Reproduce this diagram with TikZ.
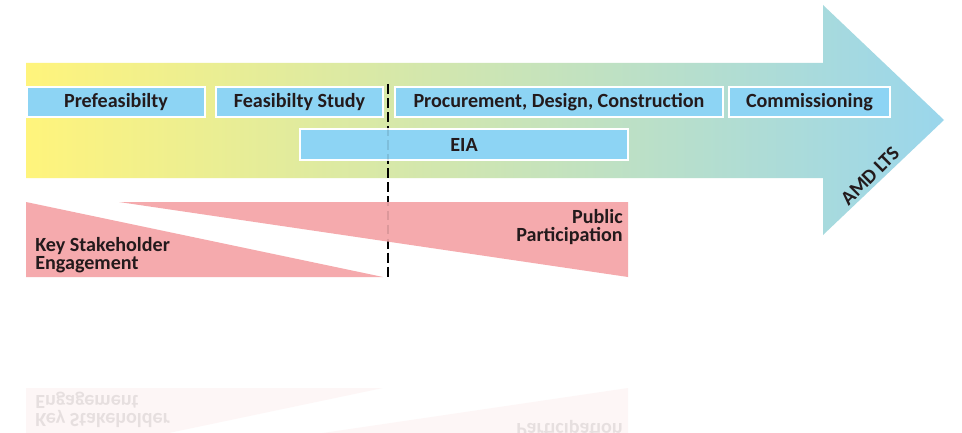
\documentclass[tikz,border=0pt]{standalone}
\usepackage{fontspec}
\setmainfont{Carlito}
\usepackage{tikz}
\usetikzlibrary{positioning}
\definecolor{boxblue}{HTML}{8DD4F4}
\definecolor{ppink}{HTML}{F5AAAD}
\definecolor{ayellow}{HTML}{FFF47C}
\definecolor{agreen}{HTML}{D6E8B6}
\definecolor{ablue}{HTML}{9AD6EC}
\definecolor{ink}{HTML}{231A1C}
\newcommand\stakeparts[1]{%
\fill[ppink] (26,202) -- (383,277) -- (26,277) -- cycle;
\fill[ppink] (119,202) -- (628,202) -- (628,277) -- cycle;
\node[note,align=left,anchor=north west] (#1kse) at (35,237) {Key Stakeholder\\Engagement};
\node[note,align=right,anchor=north east] (#1pp) at (623,209) {Public\\Participation};
}

\begin{document}
\begin{tikzpicture}[x=0.025cm,y=-0.025cm,
  phase/.style={fill=boxblue,draw=white,line width=1.4pt,minimum height=0.75cm,inner sep=0pt,text=ink,font=\bfseries\fontsize{14.3}{15}\selectfont},
  note/.style={font=\bfseries\fontsize{14.3}{12.8}\selectfont,inner sep=0pt,text=ink},
  phaseline/.style={dash pattern=on 7pt off 3pt,line width=2pt}]
\useasboundingbox[fill=white] (0,0) rectangle (962,433);
\clip (0,0) rectangle (962,433);
% timeline arrow
\shade[left color=ayellow,middle color=agreen,right color=ablue] (26,63) -- (823,63) -- (823,5) -- (944,120) -- (823,235) -- (823,178) -- (26,178) -- cycle;
\coordinate (dtop) at (388,84);
\coordinate (dbot) at (388,277);
\draw[phaseline] (dtop) -- (dbot);
% phases
\node[phase,minimum width=4.45cm] (pre) at (116,102) {Prefeasibilty};
\node[phase,minimum width=4.175cm] (feas) at (299.5,102) {Feasibilty Study};
\node[phase,minimum width=8.2cm] (proc) at (559,102) {Procurement, Design, Construction};
\node[phase,minimum width=4.025cm] (comm) at (809.5,102) {Commissioning};
\node[phase,minimum width=8.2cm,minimum height=0.775cm] (eia) at (464,144.5) {EIA};
\node[note,rotate=45] (amd) at (870,176) {AMD LTS};
% engagement
\stakeparts{}
% reflection
\begin{scope}[shift={(0,665)},yscale=-1,opacity=0.1,transform shape]
\draw[phaseline] (dtop) -- (dbot);
\stakeparts{r}
\end{scope}
\end{tikzpicture}
\end{document}
